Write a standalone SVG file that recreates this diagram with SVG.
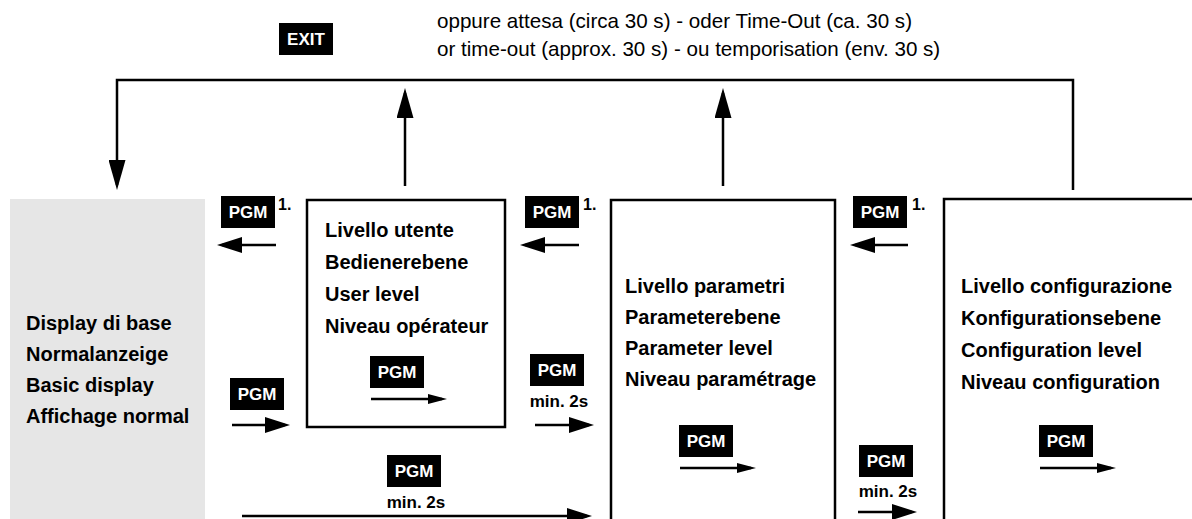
<svg xmlns="http://www.w3.org/2000/svg" width="1192" height="519" viewBox="0 0 1192 519">
<style>
.box{fill:#fff;stroke:#000;stroke-width:2.5}
.gray{fill:#e6e6e6}
.lbl{font-family:"Liberation Sans",Arial,sans-serif;font-weight:bold;font-size:20px;fill:#000}
.note{font-family:"Liberation Sans",Arial,sans-serif;font-size:20.6px;fill:#000}
.key rect{fill:#000}
.key text{font-family:"Liberation Sans",Arial,sans-serif;font-weight:bold;font-size:17px;fill:#fff;text-anchor:middle}
.num{font-family:"Liberation Sans",Arial,sans-serif;font-weight:bold;font-size:16px;fill:#000}
.min{font-family:"Liberation Sans",Arial,sans-serif;font-weight:bold;font-size:17px;fill:#000;text-anchor:middle}
.ln{fill:none;stroke:#000;stroke-width:2.5}
.big{marker-end:url(#mBig)}
.med{marker-end:url(#mMed)}
.sm{marker-end:url(#mSm)}
</style>
<defs>
<marker id="mBig" markerUnits="userSpaceOnUse" markerWidth="30" markerHeight="17" refX="25" refY="8.5" orient="auto"><path d="M0,0 L30,8.5 L0,17 z" fill="#000"/></marker>
<marker id="mMed" markerUnits="userSpaceOnUse" markerWidth="25" markerHeight="16" refX="20" refY="8" orient="auto"><path d="M0,0 L25,8 L0,16 z" fill="#000"/></marker>
<marker id="mSm" markerUnits="userSpaceOnUse" markerWidth="19" markerHeight="10" refX="14" refY="5" orient="auto"><path d="M0,0 L19,5 L0,10 z" fill="#000"/></marker>
</defs>
<rect width="1192" height="519" fill="#fff"/>

<g id="basic">
<rect class="gray" x="10" y="199" width="195" height="330"/>
<text class="lbl" x="26" y="330">Display di base</text>
<text class="lbl" x="26" y="361">Normalanzeige</text>
<text class="lbl" x="26" y="392">Basic display</text>
<text class="lbl" x="26" y="423">Affichage normal</text>
</g>

<g id="user">
<rect class="box" x="307" y="200" width="198" height="227"/>
<text class="lbl" x="325" y="237">Livello utente</text>
<text class="lbl" x="325" y="269">Bedienerebene</text>
<text class="lbl" x="325" y="301">User level</text>
<text class="lbl" x="325" y="333">Niveau opérateur</text>
</g>

<g id="param">
<rect class="box" x="611" y="200" width="224" height="330"/>
<text class="lbl" x="625" y="293">Livello parametri</text>
<text class="lbl" x="625" y="324">Parameterebene</text>
<text class="lbl" x="625" y="355">Parameter level</text>
<text class="lbl" x="625" y="386">Niveau paramétrage</text>
</g>

<g id="config">
<rect class="box" x="944" y="199" width="260" height="330"/>
<text class="lbl" x="961" y="293">Livello configurazione</text>
<text class="lbl" x="961" y="325">Konfigurationsebene</text>
<text class="lbl" x="961" y="357">Configuration level</text>
<text class="lbl" x="961" y="389">Niveau configuration</text>
</g>

<g id="exit" class="key">
<rect x="279" y="23" width="54" height="32"/>
<text x="306" y="45">EXIT</text>
</g>

<g id="timeout-note">
<text class="note" x="437" y="28">oppure attesa (circa 30 s) - oder Time-Out (ca. 30 s)</text>
<text class="note" x="437" y="56">or time-out (approx. 30 s) - ou temporisation (env. 30 s)</text>
</g>

<g id="connectors">
<path class="ln big" d="M1073,190 V80 H117 V185"/>
<path class="ln big" d="M405,186 V93"/>
<path class="ln big" d="M723,186 V93"/>
<path class="ln med" d="M276,245 H222"/>
<path class="ln med" d="M579,245 H525"/>
<path class="ln med" d="M908,245 H855"/>
<path class="ln med" d="M232,425 H285"/>
<path class="ln med" d="M535,425 H589"/>
<path class="ln med" d="M858,512 H912"/>
<path class="ln med" d="M242,516 H587"/>
<path class="ln sm" d="M371,399 H442"/>
<path class="ln sm" d="M680,468 H751"/>
<path class="ln sm" d="M1040,468 H1111"/>
</g>

<g id="connector-labels">
<g class="key"><rect x="221" y="196" width="54" height="32"/><text x="248" y="218">PGM</text></g>
<text class="num" x="278" y="210">1.</text>
<g class="key"><rect x="525" y="196" width="54" height="32"/><text x="552" y="218">PGM</text></g>
<text class="num" x="583" y="210">1.</text>
<g class="key"><rect x="853" y="196" width="54" height="32"/><text x="880" y="218">PGM</text></g>
<text class="num" x="912" y="210">1.</text>
<g class="key"><rect x="230" y="378" width="54" height="32"/><text x="257" y="400">PGM</text></g>
<g class="key"><rect x="370" y="356" width="54" height="32"/><text x="397" y="378">PGM</text></g>
<g class="key"><rect x="530" y="354" width="54" height="32"/><text x="557" y="376">PGM</text></g>
<text class="min" x="559" y="407">min. 2s</text>
<g class="key"><rect x="387" y="455" width="54" height="32"/><text x="414" y="477">PGM</text></g>
<text class="min" x="416" y="508">min. 2s</text>
<g class="key"><rect x="679" y="425" width="54" height="32"/><text x="706" y="447">PGM</text></g>
<g class="key"><rect x="859" y="445" width="54" height="32"/><text x="886" y="467">PGM</text></g>
<text class="min" x="888" y="497">min. 2s</text>
<g class="key"><rect x="1039" y="425" width="54" height="32"/><text x="1066" y="447">PGM</text></g>
</g>
</svg>
